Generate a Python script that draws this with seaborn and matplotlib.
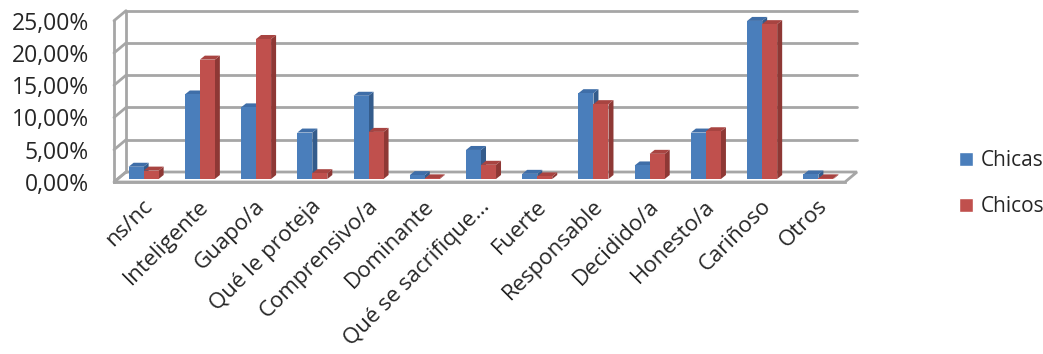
import pandas as pd
import matplotlib
matplotlib.use('Agg')
import matplotlib.pyplot as plt
import seaborn as sns
from matplotlib.patches import Polygon, Rectangle
from matplotlib.ticker import FuncFormatter

sns.set_style('white')
plt.rcParams['font.family'] = ['Open Sans', 'DejaVu Sans']

categorias = ['ns/nc', 'Inteligente', 'Guapo/a', 'Qué le proteja', 'Comprensivo/a',
              'Dominante', 'Qué se sacrifique…', 'Fuerte', 'Responsable',
              'Decidido/a', 'Honesto/a', 'Cariñoso', 'Otros']
chicas = [1.9, 13.1, 11.1, 7.2, 12.9, 0.6, 4.5, 0.8, 13.3, 2.1, 7.2, 24.5, 0.7]
chicos = [1.3, 18.5, 21.7, 0.9, 7.3, 0.1, 2.2, 0.4, 11.6, 3.9, 7.4, 24.0, 0.1]
series = ['Chicas', 'Chicos']

df = pd.DataFrame({
    'cat': categorias * 2,
    'val': chicas + chicos,
    'grupo': ['Chicas'] * len(categorias) + ['Chicos'] * len(categorias),
})

front = {'Chicas': '#4A7EBB', 'Chicos': '#C0504D'}
side = {'Chicas': '#345C8C', 'Chicos': '#8E3835'}
top = {'Chicas': '#3F6EA8', 'Chicos': '#A84441'}
grid_col = '#A6A6A6'

fig = plt.figure(figsize=(10.43, 3.54), dpi=100)
ax = fig.add_axes([114 / 1043, 1 - 182 / 354, 731 / 1043, (182 - 20.7) / 354])

sns.barplot(data=df, x='cat', y='val', hue='grupo', palette=front,
            width=0.534, gap=0, saturation=1, ax=ax, legend=False, zorder=3)

ax.set_xlim(-0.5, len(categorias) - 0.5)
ax.set_ylim(0, 25)

# pixel -> data units for the fake 3D depth
px_x = 1 / 56.2
px_y = 25 / 161.3
wall_dx, wall_dy = 12 * px_x, 10 * px_y
bar_fx, bar_fy = 1.5 * px_x, 3 * px_y
bar_dx, bar_dy = 5 * px_x, 4 * px_y

# back wall, side wall and floor
x0, x1 = -0.5, len(categorias) - 0.5
ax.add_patch(Polygon([(x0, 0), (x1, 0), (x1 + wall_dx, wall_dy), (x0 + wall_dx, wall_dy)],
                     closed=True, facecolor='white', edgecolor=grid_col, lw=2,
                     clip_on=False, zorder=1))
for v in range(0, 30, 5):
    if v > 0:
        ax.plot([x0 + wall_dx, x1 + wall_dx], [v + wall_dy, v + wall_dy],
                color=grid_col, lw=2, clip_on=False, zorder=1)
    ax.plot([x0, x0 + wall_dx], [v, v + wall_dy], color=grid_col, lw=2,
            clip_on=False, zorder=1)
ax.plot([x0 + wall_dx, x0 + wall_dx], [wall_dy, 25 + wall_dy], color=grid_col,
        lw=2, clip_on=False, zorder=1)

# turn flat bars into boxes
n = len(categorias)
for i, bar in enumerate(ax.patches[:2 * n]):
    if not isinstance(bar, Rectangle):
        continue
    g = series[i // n]
    x, w, h = bar.get_x() + bar_fx, bar.get_width(), bar.get_height()
    y0 = bar_fy
    bar.set_x(x)
    bar.set_y(y0)
    bar.set_edgecolor('none')
    bar.set_clip_on(False)
    ax.add_patch(Polygon([(x + w, y0), (x + w + bar_dx, y0 + bar_dy),
                          (x + w + bar_dx, y0 + h + bar_dy), (x + w, y0 + h)],
                         closed=True, facecolor=side[g], edgecolor='none',
                         clip_on=False, zorder=2))
    ax.add_patch(Polygon([(x, y0 + h), (x + w, y0 + h),
                          (x + w + bar_dx, y0 + h + bar_dy), (x + bar_dx, y0 + h + bar_dy)],
                         closed=True, facecolor=top[g], edgecolor='none',
                         clip_on=False, zorder=2))

for s in ['top', 'right']:
    ax.spines[s].set_visible(False)
for s in ['left', 'bottom']:
    ax.spines[s].set_color(grid_col)
    ax.spines[s].set_linewidth(2)
    ax.spines[s].set_zorder(4)

ax.set_yticks(range(0, 30, 5))
ax.yaxis.set_major_formatter(FuncFormatter(lambda v, p: f'{v:.2f}%'.replace('.', ',')))
ax.set_xticks([i + 0.5 for i in range(-1, n)], minor=False)
ax.set_xticks(range(n), minor=True)
ax.set_xticklabels([''] * (n + 1))
ax.tick_params(axis='x', which='major', length=8, width=2, color=grid_col, direction='out')
ax.tick_params(axis='x', which='minor', length=0, pad=10, labelsize=16)
ax.set_xticklabels(categorias, minor=True, rotation=45, ha='right', rotation_mode='anchor')
ax.tick_params(axis='y', length=7, width=2, color=grid_col, labelsize=16.5, pad=11)
ax.set_xlabel('')
ax.set_ylabel('')

# legend
handles = [Rectangle((0, 0), 1, 1, facecolor=front[g]) for g in series]
fig.legend(handles, series, loc='center left', bbox_to_anchor=(940 / 1043, 1 - 184 / 354),
           frameon=False, fontsize=15, handlelength=0.68, handleheight=0.68,
           handletextpad=0.4, labelspacing=1.2)

fig.savefig('out.png', dpi=100)
